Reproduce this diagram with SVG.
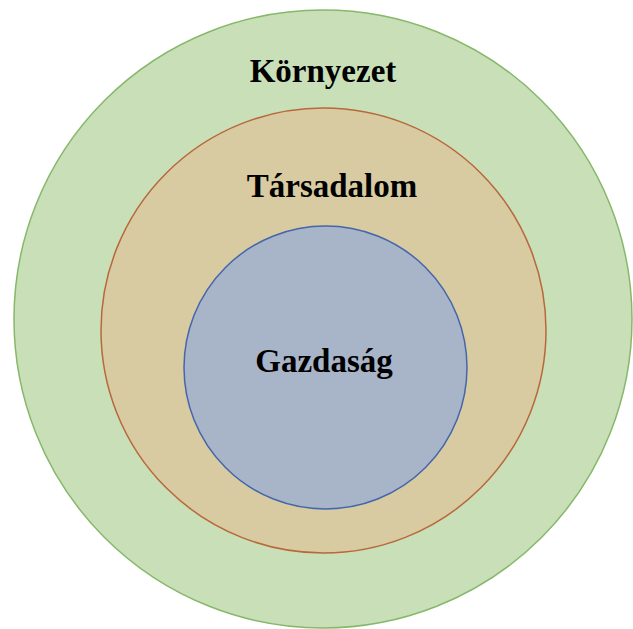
<svg xmlns="http://www.w3.org/2000/svg" width="633" height="629" viewBox="0 0 633 629">
<style>
text{font-family:"Liberation Serif","Times New Roman",serif;font-weight:bold;font-size:33px;fill:#000;text-anchor:middle}
</style>
<rect width="633" height="629" fill="#ffffff"/>
<g id="kornyezet">
<circle cx="323" cy="319" r="309" fill="#c9dfb8" stroke="#86b86a" stroke-width="1.5"/>
<text x="323" y="82">Környezet</text>
</g>
<g id="tarsadalom">
<circle cx="323.5" cy="330.5" r="222.5" fill="#d8cba2" stroke="#b8683a" stroke-width="1.5"/>
<text x="332" y="197">Társadalom</text>
</g>
<g id="gazdasag">
<circle cx="325.5" cy="367.5" r="141.5" fill="#a8b4c8" stroke="#4466aa" stroke-width="1.5"/>
<text x="324" y="372">Gazdaság</text>
</g>
<g id="connectors"/>
</svg>
